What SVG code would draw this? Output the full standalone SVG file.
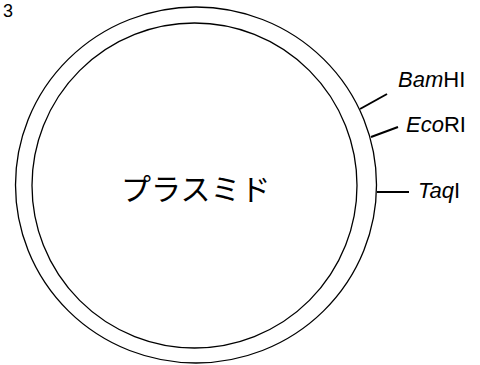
<svg xmlns="http://www.w3.org/2000/svg" width="480" height="365" viewBox="0 0 480 365">
<style>
.ring{fill:none;stroke:#000;stroke-width:1.3}
.tick{stroke:#000;stroke-width:2;fill:none}
.lbl{font-family:"Liberation Sans",Arial,sans-serif;font-size:22px;font-style:italic;fill:#000}
.up{font-style:normal}
.jp{font-family:"Noto Sans CJK JP","Noto Sans CJK SC",sans-serif;font-size:30px;fill:#000}
</style>
<rect width="480" height="365" fill="#fff"/>
<text x="3" y="17" font-family="Liberation Sans,Arial,sans-serif" font-size="18" fill="#000">3</text>
<g id="plasmid">
<ellipse class="ring" cx="196" cy="185" rx="180.5" ry="178"/>
<ellipse class="ring" cx="194.5" cy="185.5" rx="162.5" ry="162.5"/>
<text class="jp" x="121" y="200">プラスミド</text>
</g>
<g id="connectors">
<line class="tick" x1="360" y1="109" x2="387" y2="94"/>
<line class="tick" x1="371" y1="137" x2="398" y2="127"/>
<line class="tick" x1="377" y1="192" x2="409" y2="192"/>
</g>
<g id="BamHI"><text class="lbl" x="398" y="87">Bam<tspan class="up">HI</tspan></text></g>
<g id="EcoRI"><text class="lbl" x="406" y="132">Eco<tspan class="up">RI</tspan></text></g>
<g id="TaqI"><text class="lbl" x="418" y="198">Taq<tspan class="up">I</tspan></text></g>
</svg>
